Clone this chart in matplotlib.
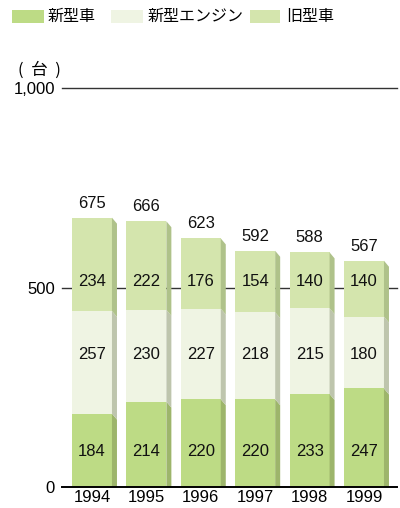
import matplotlib
matplotlib.use("Agg")
import matplotlib.pyplot as plt
from matplotlib.patches import Polygon, Rectangle

# ---- data -------------------------------------------------------------
years = ["1994", "1995", "1996", "1997", "1998", "1999"]
new_cars = [184, 214, 220, 220, 233, 247]        # 新型車
new_engines = [257, 230, 227, 218, 215, 180]     # 新型エンジン
old_cars = [234, 222, 176, 154, 140, 140]        # 旧型車
series_names = ["新型車", "新型エンジン", "旧型車"]
y_ticks = [0, 500, 1000]
y_tick_labels = ["0", "500", "1,000"]

# ---- style ------------------------------------------------------------
front_colors = ["#bddb85", "#eff4e3", "#d4e5ad"]
side_colors = ["#9db56b", "#bec5ad", "#afc28a"]
label_rows = [90, 333, 514]          # fixed heights of the in-bar value rows
NUM_FONT = ["Liberation Sans", "DejaVu Sans"]
JP_FONT = ["Noto Sans CJK JP", "DejaVu Sans"]
FS = 12

fig = plt.figure(figsize=(4.0, 5.08), dpi=100)
W, H = 400, 508
ax = fig.add_axes([62 / W, 21 / H, 335 / W, 399 / H])
ax.set_xlim(-0.551, 5.607)
ax.set_ylim(0, 1000)

bar_w = 0.735
depth_x = 0.092
depth_y = 15

series = [new_cars, new_engines, old_cars]
for i, yr in enumerate(years):
    bottom = 0
    for s, vals in enumerate(series):
        v = vals[i]
        x0 = i - bar_w / 2
        x1 = i + bar_w / 2
        ax.add_patch(Rectangle((x0, bottom), bar_w, v, facecolor=front_colors[s],
                               edgecolor="none", zorder=3))
        side = Polygon([(x1, bottom), (x1, bottom + v),
                        (x1 + depth_x, bottom + v - depth_y),
                        (x1 + depth_x, bottom - depth_y)],
                       closed=True, facecolor=side_colors[s], edgecolor="none",
                       zorder=3)
        ax.add_patch(side)
        ax.text(i, label_rows[s], str(v), ha="center", va="center",
                fontsize=FS, family=NUM_FONT, color="#111111", zorder=5)
        bottom += v
    ax.annotate(str(bottom), (i, bottom), xytext=(0, 5),
                textcoords="offset points", ha="center", va="bottom",
                fontsize=FS, family=NUM_FONT, color="#111111")

# horizontal rules
for t in y_ticks:
    ax.axhline(t, color="#000000" if t == 0 else "#333333",
               lw=1.4 if t == 0 else 1.0, zorder=2 if t else 6, clip_on=False)

for sp in ax.spines.values():
    sp.set_visible(False)
ax.set_yticks(y_ticks)
ax.set_yticklabels(y_tick_labels, family=NUM_FONT, fontsize=FS)
ax.tick_params(axis="y", length=0, pad=5)
ax.set_xticks(range(len(years)))
ax.set_xticklabels(years, family=NUM_FONT, fontsize=FS)
ax.tick_params(axis="x", length=0, pad=2)

# unit label
fig.text(39 / W, 1 - 70 / H, "(  台  )", ha="center", va="center",
         fontsize=FS, family=JP_FONT)

# legend
legend_items = [(12, 44, 48), (111, 143, 148), (250, 280, 286)]
for (p0, p1, tx), name, col in zip(legend_items, series_names, front_colors):
    fig.patches.append(Rectangle((p0 / W, 1 - 23 / H), (p1 - p0) / W, 13 / H,
                                 transform=fig.transFigure, facecolor=col,
                                 edgecolor="none"))
    fig.text(tx / W, 1 - 16.5 / H, name, ha="left", va="center",
             fontsize=11.5, family=JP_FONT)

fig.savefig("out.png", dpi=100)
